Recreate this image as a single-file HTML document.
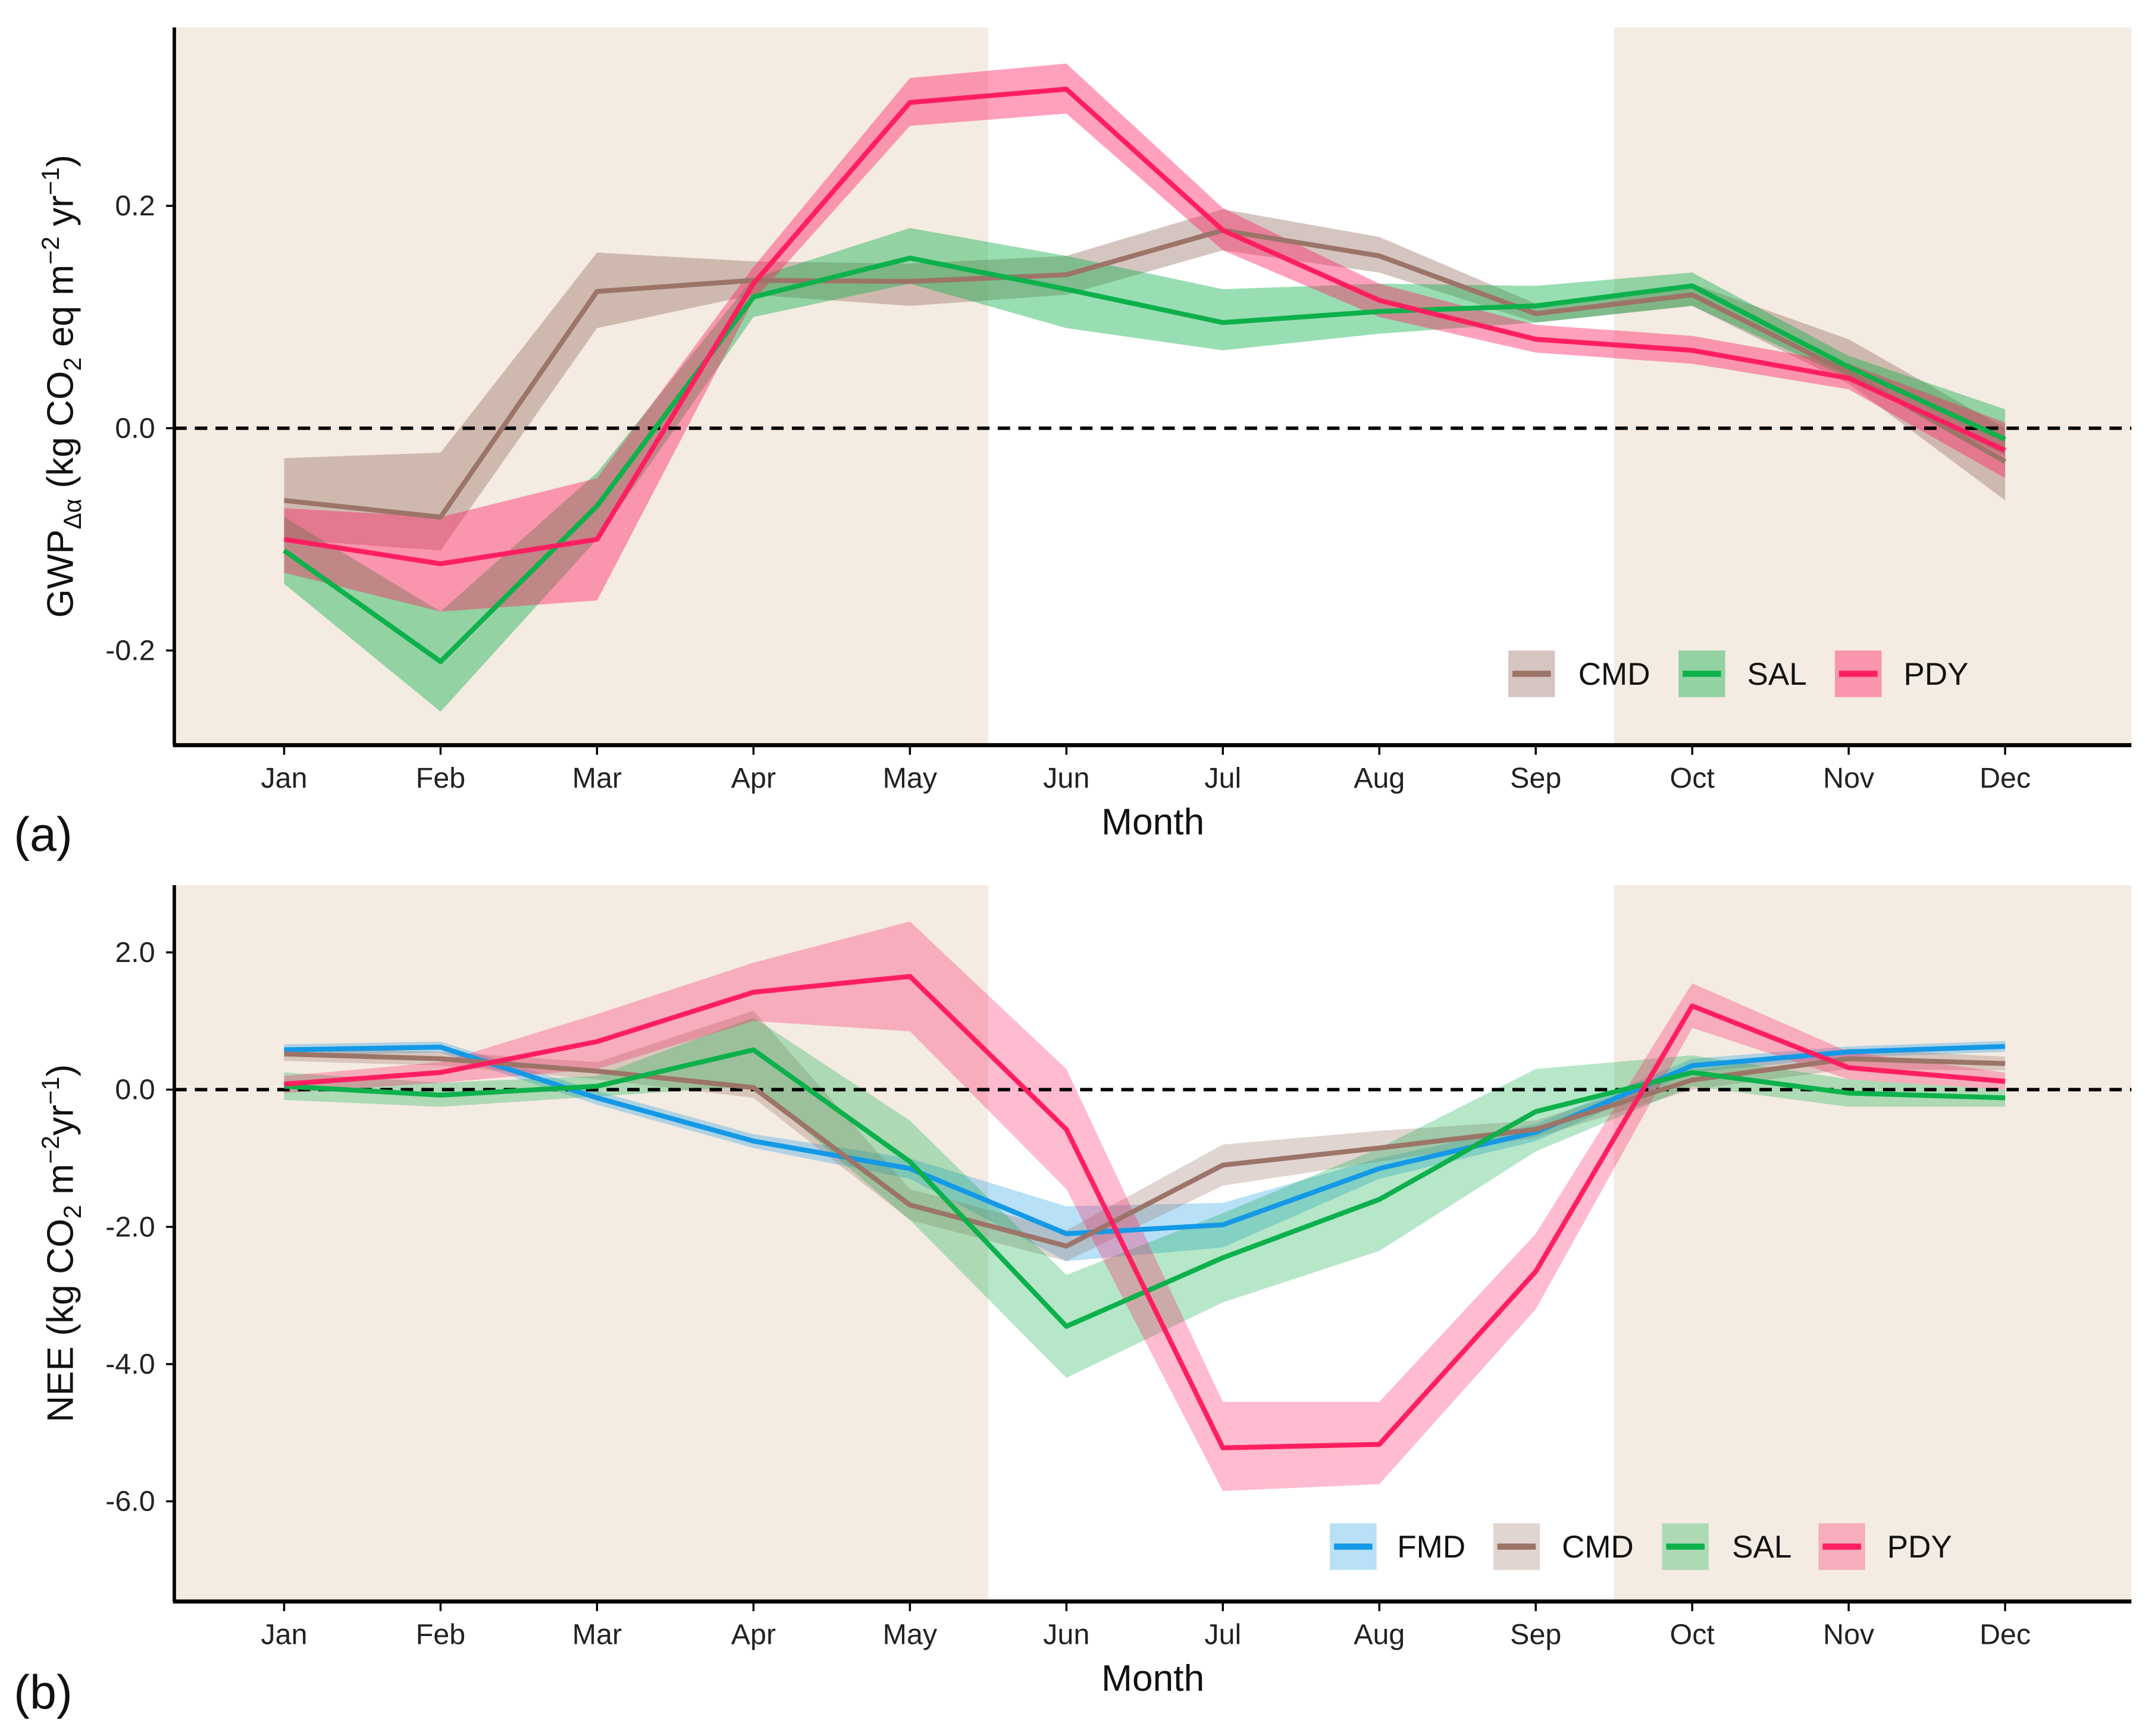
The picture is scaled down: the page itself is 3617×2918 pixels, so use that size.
<!DOCTYPE html>
<html><head><meta charset="utf-8"><style>
html,body{margin:0;padding:0;background:#fff}
svg{display:block;font-family:"Liberation Sans",Arial,sans-serif}
</style></head><body>
<svg id="chart" width="3617" height="2918" viewBox="0 0 1568 1265" xmlns="http://www.w3.org/2000/svg">
<g id="pa"></g>
<g id="pb"></g>
</svg>
<script>
const months = ["Jan","Feb","Mar","Apr","May","Jun","Jul","Aug","Sep","Oct","Nov","Dec"];
// Panel (a) GWP
const aCMD = [-0.065,-0.08,0.123,0.133,0.132,0.138,0.178,0.155,0.103,0.12,0.05,-0.03];
const aCMDlo = [-0.1,-0.11,0.09,0.12,0.11,0.12,0.16,0.14,0.095,0.11,0.04,-0.065];
const aCMDhi = [-0.027,-0.022,0.158,0.15,0.148,0.155,0.197,0.172,0.112,0.13,0.08,0.0];
const aSAL = [-0.11,-0.21,-0.07,0.118,0.153,0.125,0.095,0.105,0.11,0.128,0.055,-0.01];
const aSALlo = [-0.14,-0.255,-0.1,0.1,0.13,0.09,0.07,0.085,0.095,0.11,0.045,-0.025];
const aSALhi = [-0.08,-0.165,-0.04,0.135,0.18,0.155,0.125,0.13,0.128,0.14,0.065,0.017];
const aPDY = [-0.1,-0.122,-0.1,0.13,0.293,0.305,0.178,0.115,0.08,0.07,0.045,-0.02];
const aPDYlo = [-0.13,-0.165,-0.155,0.115,0.272,0.283,0.16,0.1,0.068,0.058,0.035,-0.045];
const aPDYhi = [-0.072,-0.08,-0.045,0.145,0.315,0.328,0.198,0.13,0.093,0.083,0.058,0.005];
const aTicks = [0.2,0.0,-0.2];
const aTickLabels = ["0.2","0.0","-0.2"];
// Panel (b) NEE
const bFMD = [0.58,0.62,-0.12,-0.75,-1.15,-2.1,-1.97,-1.15,-0.62,0.35,0.55,0.63];
const bFMDlo = [0.5,0.54,-0.22,-0.85,-1.3,-2.5,-2.3,-1.3,-0.75,0.25,0.47,0.55];
const bFMDhi = [0.66,0.7,-0.02,-0.65,-1.0,-1.7,-1.65,-1.0,-0.5,0.45,0.63,0.71];
const bCMD = [0.52,0.45,0.27,0.03,-1.68,-2.28,-1.1,-0.85,-0.58,0.14,0.45,0.38];
const bCMDlo = [0.42,0.35,0.15,-0.12,-1.9,-2.5,-1.4,-1.05,-0.7,0.0,0.3,0.28];
const bCMDhi = [0.62,0.55,0.4,1.15,-1.45,-2.05,-0.8,-0.6,-0.45,0.28,0.6,0.48];
const bSAL = [0.05,-0.08,0.05,0.58,-1.05,-3.45,-2.45,-1.6,-0.32,0.25,-0.05,-0.12];
const bSALlo = [-0.15,-0.25,-0.1,0.05,-1.9,-4.2,-3.1,-2.35,-0.9,0.05,-0.25,-0.25];
const bSALhi = [0.25,0.1,0.2,1.05,-0.45,-2.7,-1.8,-0.85,0.3,0.5,0.15,0.0];
const bPDY = [0.08,0.25,0.7,1.42,1.65,-0.58,-5.22,-5.17,-2.65,1.22,0.32,0.12];
const bPDYlo = [-0.05,0.1,0.3,1.0,0.85,-1.45,-5.85,-5.75,-3.2,0.9,0.15,0.0];
const bPDYhi = [0.2,0.4,1.1,1.85,2.45,0.3,-4.55,-4.55,-2.1,1.55,0.55,0.25];
const bTicks = [2,0,-2,-4,-6];
const bTickLabels = ["2.0","0.0","-2.0","-4.0","-6.0"];

const NS="http://www.w3.org/2000/svg";
function mk(tag,parent,attrs,name,txt){const e=document.createElementNS(NS,tag);for(const k in attrs)e.setAttribute(k,attrs[k]);


if(txt!==undefined)e.textContent=txt;parent.appendChild(e);return e;}
const xOf=i=>207+114*i;
const COL={FMD:"#1499e6",CMD:"#9c7468",SAL:"#0db14b",PDY:"#ff1f61"};

function panel(g,top,bottom,y,ticks,tickLabels,series,alpha,legX,legLabX,legY,label,labelY,ytitle){
  mk('rect',g,{x:127,y:top,width:593,height:bottom-top,fill:"#f4ebe2"},'shade-left');
  mk('rect',g,{x:1176,y:top,width:377,height:bottom-top,fill:"#f4ebe2"},'shade-right');
  series.forEach(s=>{
    let d="M"+s.hi.map((v,i)=>xOf(i)+","+y(v)).join("L")+"L"+s.lo.map((v,i)=>xOf(i)+","+y(v)).reverse().join("L")+"Z";
    mk('path',g,{d:d,fill:COL[s.k],'fill-opacity':alpha},'band-'+s.k.toLowerCase());
  });
  mk('line',g,{x1:127,x2:1553,y1:y(0),y2:y(0),stroke:"#000","stroke-width":2.5,"stroke-dasharray":"9,6"},'zero-line');
  series.forEach(s=>{
    mk('polyline',g,{points:s.v.map((v,i)=>xOf(i)+","+y(v)).join(" "),fill:"none",stroke:COL[s.k],"stroke-width":3.6,"stroke-linejoin":"round"},'line-'+s.k.toLowerCase());
  });
  mk('line',g,{x1:127,x2:127,y1:top,y2:bottom,stroke:"#000","stroke-width":2.5},'y-axis');
  mk('line',g,{x1:126,x2:1553,y1:bottom,y2:bottom,stroke:"#000","stroke-width":3},'x-axis');
  ticks.forEach((t,i)=>{
    mk('line',g,{x1:121,x2:127,y1:y(t),y2:y(t),stroke:"#000","stroke-width":1.5},'y-tick');
    mk('text',g,{x:113,y:y(t)+7,"text-anchor":"end","font-size":21,fill:"#222"},'y-tick-label',tickLabels[i]);
  });
  months.forEach((m,i)=>{
    mk('line',g,{x1:xOf(i),x2:xOf(i),y1:bottom,y2:bottom+7,stroke:"#000","stroke-width":1.5},'x-tick');
    mk('text',g,{x:xOf(i),y:bottom+31,"text-anchor":"middle","font-size":21,fill:"#222"},'x-tick-label',m);
  });
  mk('text',g,{x:840,y:bottom+65,"text-anchor":"middle","font-size":27,fill:"#111"},'x-axis-title',"Month");
  mk('text',g,{x:10,y:labelY,"font-size":35,fill:"#111"},'panel-label',label);
  const yt=mk('text',g,{transform:`translate(53,${(top+bottom)/2}) rotate(-90)`,"text-anchor":"middle","font-size":27,fill:"#111"},'y-axis-title');
  yt.innerHTML=ytitle;
  series.forEach((s,i)=>{
    mk('rect',g,{x:legX[i],y:legY-17,width:34,height:34,fill:COL[s.k],'fill-opacity':alpha},'legend-key-'+s.k.toLowerCase());
    mk('line',g,{x1:legX[i]+3,x2:legX[i]+31,y1:legY,y2:legY,stroke:COL[s.k],"stroke-width":4.5},'legend-line-'+s.k.toLowerCase());
    mk('text',g,{x:legLabX[i],y:legY+8,"font-size":23,fill:"#111"},'legend-label-'+s.k.toLowerCase(),s.k);
  });
}
const yA=v=>312-810*v;
panel(document.getElementById('pa'),20,543,yA,aTicks,aTickLabels,
 [{k:"CMD",v:aCMD,lo:aCMDlo,hi:aCMDhi},{k:"SAL",v:aSAL,lo:aSALlo,hi:aSALhi},{k:"PDY",v:aPDY,lo:aPDYlo,hi:aPDYhi}],
 0.42,[1099,1223,1337],[1150,1273,1387],491,"(a)",620,
 'GWP<tspan font-size="18" dy="6">Δα</tspan><tspan dy="-6"> (kg CO</tspan><tspan font-size="18" dy="6">2</tspan><tspan dy="-6"> eq m</tspan><tspan font-size="18" dy="-10">−2</tspan><tspan dy="10"> yr</tspan><tspan font-size="18" dy="-10">−1</tspan><tspan dy="10">)</tspan>');
const yB=v=>794-50*v;
panel(document.getElementById('pb'),645,1167,yB,bTicks,bTickLabels,
 [{k:"FMD",v:bFMD,lo:bFMDlo,hi:bFMDhi},{k:"CMD",v:bCMD,lo:bCMDlo,hi:bCMDhi},{k:"SAL",v:bSAL,lo:bSALlo,hi:bSALhi},{k:"PDY",v:bPDY,lo:bPDYlo,hi:bPDYhi}],
 0.3,[969,1088,1211,1325],[1018,1138,1262,1375],1127,"(b)",1245,
 'NEE (kg CO<tspan font-size="18" dy="6">2</tspan><tspan dy="-6"> m</tspan><tspan font-size="18" dy="-10">−2</tspan><tspan dy="10">yr</tspan><tspan font-size="18" dy="-10">−1</tspan><tspan dy="10">)</tspan>');
</script>
</body></html>
